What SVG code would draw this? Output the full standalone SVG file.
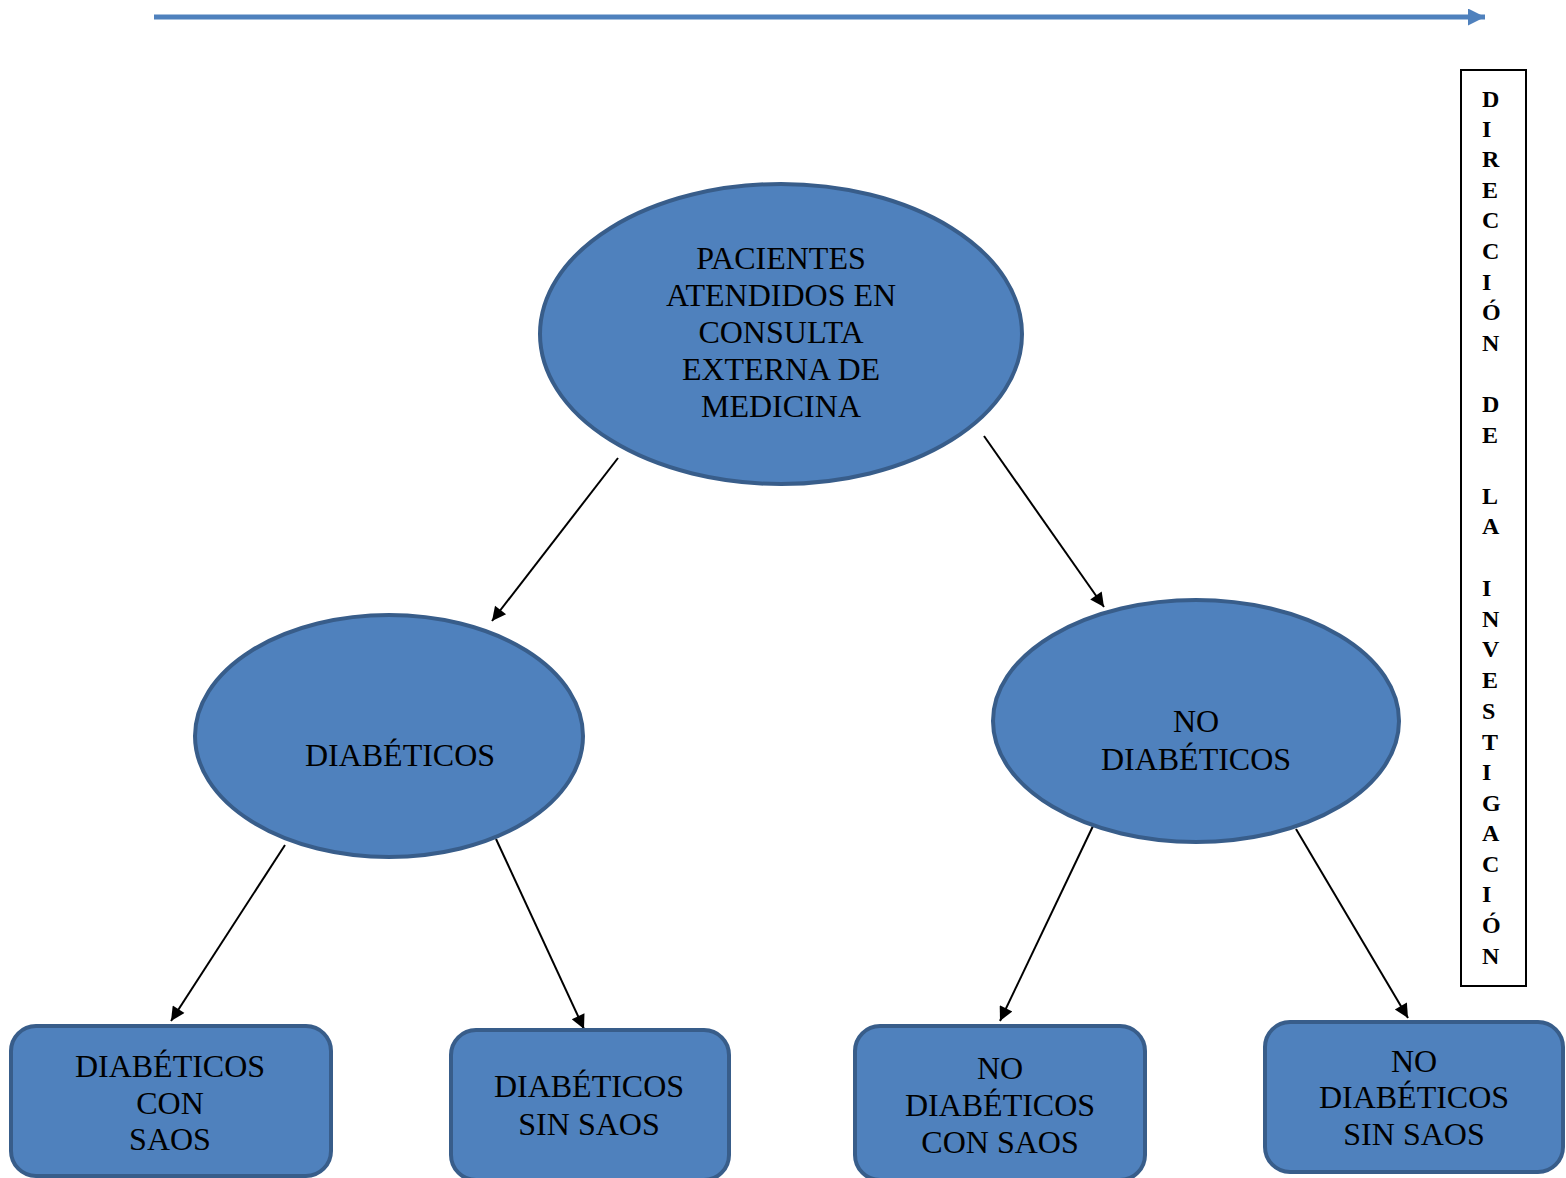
<svg xmlns="http://www.w3.org/2000/svg" width="1566" height="1178" viewBox="0 0 1566 1178">
<style>
.n{fill:#4f81bd;stroke:#385d8a;stroke-width:4}
.t{font-family:'Liberation Serif','Times New Roman','DejaVu Serif',serif;font-size:32px;fill:#000;text-anchor:middle}
.v{font-family:'Liberation Serif','Times New Roman','DejaVu Serif',serif;font-size:24px;font-weight:bold;fill:#000}
.c{stroke:#000;stroke-width:2;fill:none;marker-end:url(#ah)}
</style>
<defs>
<marker id="ah" viewBox="0 0 10 10" refX="10" refY="5" markerWidth="17" markerHeight="14" markerUnits="userSpaceOnUse" orient="auto">
<path d="M0,0 L10,5 L0,10 z" fill="#000"/>
</marker>
<marker id="bh" viewBox="0 0 10 10" refX="10" refY="5" markerWidth="19" markerHeight="17" markerUnits="userSpaceOnUse" orient="auto">
<path d="M0,0 L10,5 L0,10 z" fill="#4f81bd"/>
</marker>
</defs>
<g id="timeline">
<line x1="154" y1="17" x2="1485" y2="17" stroke="#4f81bd" stroke-width="5" marker-end="url(#bh)"/>
</g>
<g id="direccion">
<rect x="1461" y="70" width="65" height="916" fill="#fff" stroke="#000" stroke-width="2"/>
<text class="v" x="1482" y="107">D</text>
<text class="v" x="1482" y="137">I</text>
<text class="v" x="1482" y="167">R</text>
<text class="v" x="1482" y="198">E</text>
<text class="v" x="1482" y="228">C</text>
<text class="v" x="1482" y="259">C</text>
<text class="v" x="1482" y="290">I</text>
<text class="v" x="1482" y="320">Ó</text>
<text class="v" x="1482" y="351">N</text>
<text class="v" x="1482" y="412">D</text>
<text class="v" x="1482" y="443">E</text>
<text class="v" x="1482" y="504">L</text>
<text class="v" x="1482" y="534">A</text>
<text class="v" x="1482" y="596">I</text>
<text class="v" x="1482" y="627">N</text>
<text class="v" x="1482" y="657">V</text>
<text class="v" x="1482" y="688">E</text>
<text class="v" x="1482" y="719">S</text>
<text class="v" x="1482" y="750">T</text>
<text class="v" x="1482" y="780">I</text>
<text class="v" x="1482" y="811">G</text>
<text class="v" x="1482" y="841">A</text>
<text class="v" x="1482" y="872">C</text>
<text class="v" x="1482" y="902">I</text>
<text class="v" x="1482" y="933">Ó</text>
<text class="v" x="1482" y="964">N</text>
</g>
<g id="connectors">
<line class="c" x1="618" y1="458" x2="492" y2="621"/>
<line class="c" x1="984" y1="436" x2="1104" y2="607"/>
<line class="c" x1="285" y1="845" x2="171" y2="1021"/>
<line class="c" x1="496" y1="839" x2="584" y2="1029"/>
<line class="c" x1="1093" y1="826" x2="1000" y2="1021"/>
<line class="c" x1="1296" y1="829" x2="1408" y2="1018"/>
</g>
<g id="pacientes">
<ellipse class="n" cx="781" cy="334" rx="241" ry="150"/>
<text class="t" x="781" y="269">PACIENTES</text>
<text class="t" x="781" y="306">ATENDIDOS EN</text>
<text class="t" x="781" y="343">CONSULTA</text>
<text class="t" x="781" y="380">EXTERNA DE</text>
<text class="t" x="781" y="417">MEDICINA</text>
</g>
<g id="diabeticos">
<ellipse class="n" cx="389" cy="736" rx="194" ry="121"/>
<text class="t" x="400" y="766">DIABÉTICOS</text>
</g>
<g id="no-diabeticos">
<ellipse class="n" cx="1196" cy="721" rx="203" ry="121"/>
<text class="t" x="1196" y="732">NO</text>
<text class="t" x="1196" y="770">DIABÉTICOS</text>
</g>
<g id="diab-con-saos">
<rect class="n" x="11" y="1026" width="320" height="150" rx="25"/>
<text class="t" x="170" y="1077">DIABÉTICOS</text>
<text class="t" x="170" y="1114">CON</text>
<text class="t" x="170" y="1150">SAOS</text>
</g>
<g id="diab-sin-saos">
<rect class="n" x="451" y="1030" width="278" height="150" rx="25"/>
<text class="t" x="589" y="1097">DIABÉTICOS</text>
<text class="t" x="589" y="1135">SIN SAOS</text>
</g>
<g id="nodiab-con-saos">
<rect class="n" x="855" y="1026" width="290" height="154" rx="25"/>
<text class="t" x="1000" y="1079">NO</text>
<text class="t" x="1000" y="1116">DIABÉTICOS</text>
<text class="t" x="1000" y="1153">CON SAOS</text>
</g>
<g id="nodiab-sin-saos">
<rect class="n" x="1265" y="1022" width="298" height="150" rx="25"/>
<text class="t" x="1414" y="1072">NO</text>
<text class="t" x="1414" y="1108">DIABÉTICOS</text>
<text class="t" x="1414" y="1145">SIN SAOS</text>
</g>
</svg>
